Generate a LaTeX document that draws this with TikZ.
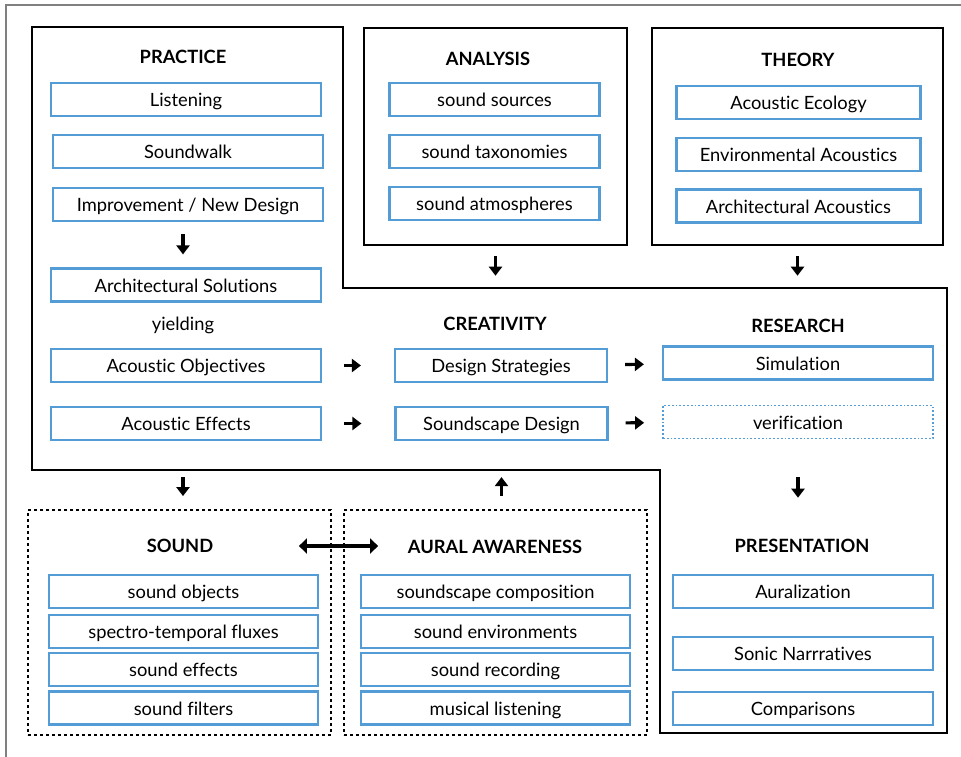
\documentclass[tikz,border=0pt]{standalone}
\usepackage{fontspec}
\setmainfont{Lato}[Ligatures={NoCommon,NoRare}]
\usetikzlibrary{arrows.meta}

\definecolor{boxblue}{RGB}{84,156,214}

\tikzset{
    item/.style={draw=boxblue, line width=2.2pt, minimum height=33, inner sep=0pt, text height=14pt, text depth=0pt, font=\fontsize{18.3}{21}\selectfont},
    dotitem/.style={item, draw=boxblue, line width=1.8pt, dotted},
    head/.style={font=\bfseries\fontsize{18.3}{21}\selectfont},
    frame/.style={draw, line width=2.2pt},
    dashframe/.style={draw, line width=1.8pt, dash pattern=on 3pt off 3pt},
    bigarrow/.style={-{Triangle[length=9pt,width=13pt]}, line width=3.2pt},
    twoarrow/.style={{Triangle[length=8pt,width=15pt]}-{Triangle[length=8pt,width=15pt]}, line width=4pt},
}

\begin{document}
\begin{tikzpicture}[x=1pt, y=-1pt]
    \useasboundingbox (0,0) rectangle (961,757);
    \draw[gray, line width=1.2pt] (961,5) -- (6,5) -- (6,757);

    % practice + research frame
    \draw[frame] (32,27) -- (343,27) -- (343,288) -- (947,288) -- (947,733) -- (660,733) -- (660,470) -- (32,470) -- cycle;
    \coordinate (pbot) at (183,470);

    \node[frame, minimum width=263, minimum height=217] (analysis) at (495.5,136.5) {};
    \node[frame, minimum width=291, minimum height=217] (theory) at (797.5,136.5) {};
    \node[dashframe, minimum width=303, minimum height=225] (sound) at (179.5,622.5) {};
    \node[dashframe, minimum width=303, minimum height=225] (aural) at (495.5,622.5) {};

    % titles
    \node[head] (tprac) at (183,57) {PRACTICE};
    \node[head] (tana) at (488,59) {ANALYSIS};
    \node[head] (ttheo) at (798,60) {THEORY};
    \node[head] (tcrea) at (495,324) {CREATIVITY};
    \node[head] (tres) at (798,326) {RESEARCH};
    \node[head] (tsound) at (180,546) {SOUND};
    \node[head] (taural) at (495,547) {AURAL AWARENESS};
    \node[head] (tpres) at (802,546) {PRESENTATION};

    % practice
    \node[item, minimum width=270] (listen) at (186,99.5) {Listening};
    \node[item, minimum width=270] (walk) at (188,151.5) {Soundwalk};
    \node[item, minimum width=270] (impr) at (188,204.5) {Improvement / New Design};
    \node[item, minimum width=270] (arch) at (186,285) {Architectural Solutions};
    \node[font=\fontsize{18.3}{21}\selectfont] (yield) at (183,325) {yielding};
    \node[item, minimum width=270] (obj) at (186,365.5) {Acoustic Objectives};
    \node[item, minimum width=270] (eff) at (186,423.5) {Acoustic Effects};

    % analysis, theory
    \foreach \t/\y [count=\i] in {sound sources/99.5, sound taxonomies/151.5, sound atmospheres/203.5}
        \node[item, minimum width=210] (a\i) at (494.5,\y) {\t};
    \foreach \t/\y [count=\i] in {Acoustic Ecology/102.5, Environmental Acoustics/154.5, Architectural Acoustics/206}
        \node[item, minimum width=244] (th\i) at (798.5,\y) {\t};

    % creativity, research
    \node[item, minimum width=212] (strat) at (501,365.5) {Design Strategies};
    \node[item, minimum width=212] (sdesign) at (501.5,423.5) {Soundscape Design};
    \node[item, minimum width=270] (sim) at (798,363) {Simulation};
    \node[dotitem, minimum width=270] (verif) at (798,422) {verification};

    % sound, aural awareness, presentation
    \foreach \t/\y [count=\i] in {sound objects/591.5, spectro-temporal fluxes/631.5, sound effects/669.5, sound filters/708}
        \node[item, minimum width=269] (s\i) at (183.5,\y) {\t};
    \foreach \t/\y [count=\i] in {soundscape composition/591.5, sound environments/631.5, sound recording/669.5, musical listening/708}
        \node[item, minimum width=269] (au\i) at (495.5,\y) {\t};
    \foreach \t/\y [count=\i] in {Auralization/591.5, Sonic Narrratives/653.5, Comparisons/708.5}
        \node[item, minimum width=260] (pr\i) at (803,\y) {\t};

    % arrows
    \draw[bigarrow, shorten <=12, shorten >=13] ([xshift=-5]impr.south) -- ([xshift=-5]impr.south |- arch.north);
    \draw[bigarrow, shorten <=22, shorten >=33] (obj) -- (strat);
    \draw[bigarrow, shorten <=22, shorten >=33] (eff) -- (sdesign);
    \draw[bigarrow, shorten <=17, shorten >=18] (strat) -- (sim);
    \draw[bigarrow, shorten <=17, shorten >=18] (sdesign) -- (verif);
    \draw[bigarrow, shorten <=10, shorten >=38] (analysis.south) -- (analysis.south |- tcrea.north);
    \draw[bigarrow, shorten <=10, shorten >=40] (theory.south) -- (theory.south |- tres.north);
    \draw[bigarrow, shorten <=7, shorten >=13] (pbot) -- (pbot |- sound.north);
    \draw[bigarrow, shorten <=13, shorten >=36] (sdesign.south |- aural.north) -- (sdesign.south);
    \draw[bigarrow, shorten <=38, shorten >=38] (verif.south) -- (verif.south |- tpres.north);
    \draw[twoarrow] ([xshift=-33]sound.east |- tsound.center) -- ([xshift=35]aural.west |- tsound.center);
\end{tikzpicture}
\end{document}
